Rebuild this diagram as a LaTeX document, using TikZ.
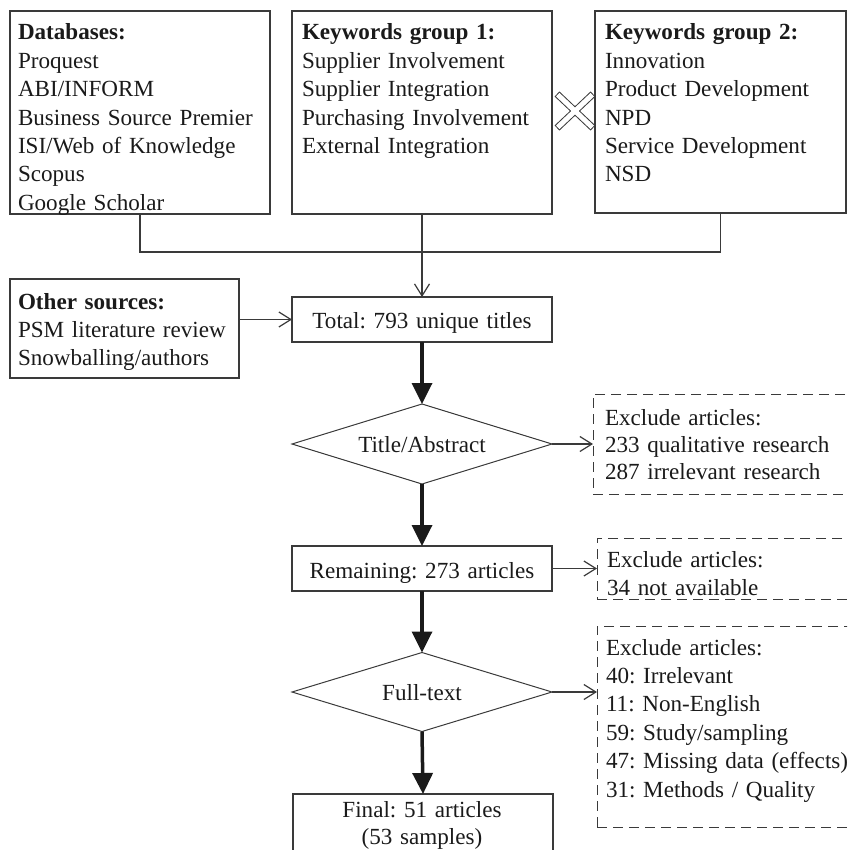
\documentclass[tikz,border=0pt]{standalone}
\usepackage{fontspec}
\setmainfont{Liberation Serif}
\usetikzlibrary{arrows.meta,shapes.geometric}
\definecolor{lc}{HTML}{3A3A3A}
\definecolor{tc}{HTML}{1A1A1A}
\frenchspacing
\hyphenpenalty=10000
\begin{document}
\begin{tikzpicture}[x=1pt,y=-1pt,
 box/.style={draw=lc, line width=1.2pt, rectangle, inner sep=0pt, outer sep=0pt, anchor=north west},
 dbox/.style={box, line width=1pt, dash pattern=on 10pt off 6pt},
 dia/.style={draw=lc, line width=1pt, diamond, inner sep=0pt, outer sep=0pt, minimum width=260pt, minimum height=80pt},
 txt/.style={inner sep=0pt, outer sep=0pt, text=tc, font=\fontsize{23.1}{28.4}\selectfont, text width=300pt, align=left, anchor=base west},
 ctxt/.style={txt, text width=260pt, align=center, anchor=base},
 arr/.style={draw=lc, line width=1.2pt, -{Straight Barb[length=12pt,width=15pt]}},
 fat/.style={draw=tc, line width=3.5pt, -{Triangle[length=21pt,width=20pt]}},
 conn/.style={draw=lc, line width=1.2pt}]
\useasboundingbox (0,0) rectangle (847,850);
\clip (0,0) rectangle (847,850);

% boxes
\node[box, minimum width=260pt, minimum height=203pt] (db) at (10,11) {};
\node[box, minimum width=260pt, minimum height=203pt] (k1) at (292,11) {};
\node[box, minimum width=251pt, minimum height=202pt] (k2) at (595,11) {};
\node[box, minimum width=229pt, minimum height=99pt] (other) at (10,279) {};
\node[box, minimum width=260pt, minimum height=45pt] (total) at (292,297) {};
\node[dia] (d1) at (422,444) {};
\node[dbox, minimum width=300pt, minimum height=100pt] (ex1) at (593,394) {};
\node[box, minimum width=260pt, minimum height=45pt] (rem) at (292,546) {};
\node[dbox, minimum width=300pt, minimum height=61pt] (ex2) at (597,538) {};
\node[dia, minimum height=79pt] (d2) at (422,692) {};
\node[dbox, minimum width=300pt, minimum height=201pt] (ex3) at (597,626) {};
\node[box, minimum width=260pt, minimum height=100pt] (fin) at (293,794) {};

% texts
\node[txt] (dbt) at (18,40) {\textbf{Databases:}\\Proquest\\ABI/INFORM\\Business Source Premier\\ISI/Web of Knowledge\\Scopus\\Google Scholar};
\node[txt] (k1t) at (302,40) {\textbf{Keywords group 1:}\\Supplier Involvement\\Supplier Integration\\Purchasing Involvement\\External Integration};
\node[txt] (k2t) at (605,40) {\textbf{Keywords group 2:}\\Innovation\\Product Development\\NPD\\Service Development\\NSD};
\node[txt] (ot) at (18,309) {\textbf{Other sources:}\\PSM literature review\\Snowballing/authors};
\node[ctxt] (tt) at (422,328) {Total: 793 unique titles};
\node[ctxt] (d1t) at (422,452) {Title/Abstract};
\node[txt, font=\fontsize{23.1}{27}\selectfont] (e1t) at (605,425) {Exclude articles:\\233 qualitative research\\287 irrelevant research};
\node[ctxt] (rt) at (422,578) {Remaining: 273 articles};
\node[txt, font=\fontsize{23.1}{28}\selectfont] (e2t) at (607,567) {Exclude articles:\\34 not available};
\node[ctxt] (d2t) at (422,700) {Full-text};
\node[txt] (e3t) at (606,655) {Exclude articles:\\40: Irrelevant\\11: Non-English\\59: Study/sampling\\47: Missing data (effects)\\31: Methods / Quality};
\node[ctxt, font=\fontsize{23.1}{27}\selectfont] (ft) at (422,817) {Final: 51 articles\\(53 samples)};

% cross mark
\draw[lc, line width=7pt] (557,94) -- (593,128);
\draw[lc, line width=7pt] (557,128) -- (593,94);
\draw[white, line width=5pt, shorten >=1pt, shorten <=1pt] (557,94) -- (593,128);
\draw[white, line width=5pt, shorten >=1pt, shorten <=1pt] (557,128) -- (593,94);

% connectors
\coordinate (jn) at (422,252);
\draw[conn] (db.south) |- (k2.south |- jn) -- (k2.south);
\draw[arr] (k1.south) -- (total.north);
\draw[arr] (other.east |- total.west) -- (total.west);
\draw[fat] (total.south) -- (d1.north);
\draw[arr] (d1.east) -- (ex1.west |- d1.east);
\draw[fat] (d1.south) -- (rem.north);
\draw[arr] (rem.east) -- (ex2.west |- rem.east);
\draw[fat] (rem.south) -- (d2.north);
\draw[arr] (d2.east) -- (ex3.west |- d2.east);
\draw[fat] (d2.south) -- (fin.north);
\end{tikzpicture}
\end{document}
